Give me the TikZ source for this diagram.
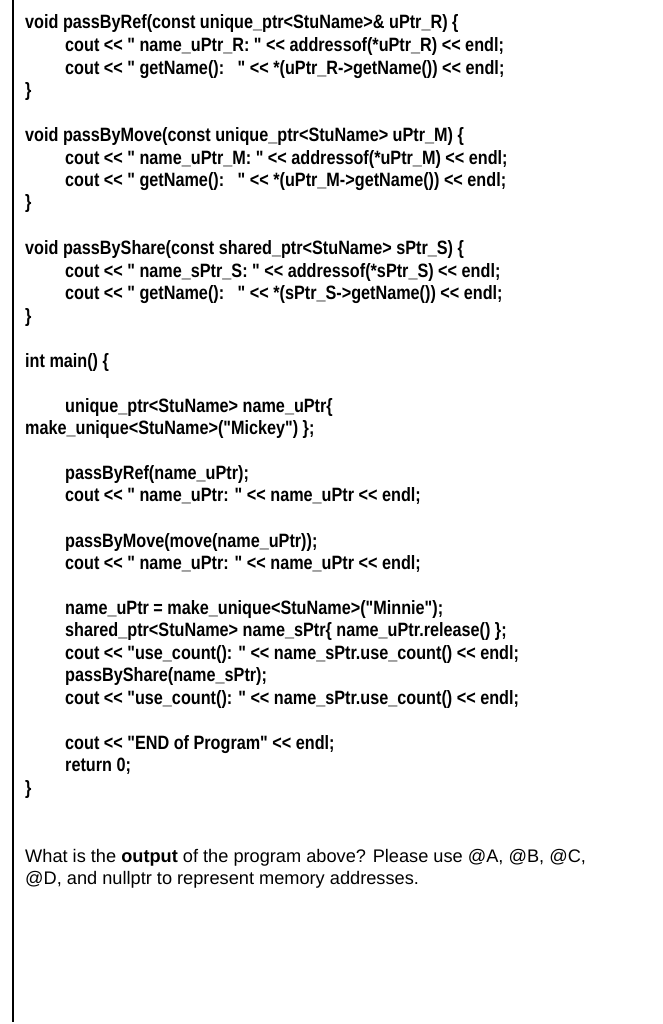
\documentclass[tikz,border=0pt]{standalone}
\usepackage{fontspec}
\setmainfont{Liberation Sans}
\newfontfamily\codefont[FakeStretch=0.84]{Liberation Sans}
\begin{document}
\begin{tikzpicture}[x=1pt,y=-1pt,
  code/.style={anchor=base west,inner sep=0pt,font=\codefont\bfseries\fontsize{19.3}{22}\selectfont},
  q/.style={anchor=base west,inner sep=0pt,font=\fontsize{18.2}{22}\selectfont}]
\useasboundingbox (0,0) rectangle (662,1024);
\draw[line width=1.6pt] (13,0) -- (13,1022);
\def\I{65}
\node[code] (l1) at (25,29) {void passByRef(const unique\_ptr<StuName>\& uPtr\_R) \{};
\node[code] (l2) at (\I,52) {cout << " name\_uPtr\_R: " << addressof(*uPtr\_R) << endl;};
\node[code] (l3) at (\I,75) {cout << " getName():\ \ \ " << *(uPtr\_R->getName()) << endl;};
\node[code] (l4) at (25,97) {\}};
\node[code] (l5) at (25,142) {void passByMove(const unique\_ptr<StuName> uPtr\_M) \{};
\node[code] (l6) at (\I,165) {cout << " name\_uPtr\_M: " << addressof(*uPtr\_M) << endl;};
\node[code] (l7) at (\I,187) {cout << " getName():\ \ \ " << *(uPtr\_M->getName()) << endl;};
\node[code] (l8) at (25,209) {\}};
\node[code] (l9) at (25,254) {void passByShare(const shared\_ptr<StuName> sPtr\_S) \{};
\node[code] (l10) at (\I,277) {cout << " name\_sPtr\_S: " << addressof(*sPtr\_S) << endl;};
\node[code] (l11) at (\I,299) {cout << " getName():\ \ \ " << *(sPtr\_S->getName()) << endl;};
\node[code] (l12) at (25,322) {\}};
\node[code] (l13) at (25,367) {int main() \{};
\node[code] (l14) at (\I,412) {unique\_ptr<StuName> name\_uPtr\{};
\node[code] (l15) at (25,434) {make\_unique<StuName>("Mickey") \};};
\node[code] (l16) at (\I,479) {passByRef(name\_uPtr);};
\node[code] (l17) at (\I,501) {cout << " name\_uPtr: " << name\_uPtr << endl;};
\node[code] (l18) at (\I,547) {passByMove(move(name\_uPtr));};
\node[code] (l19) at (\I,569) {cout << " name\_uPtr: " << name\_uPtr << endl;};
\node[code] (l20) at (\I,614) {name\_uPtr = make\_unique<StuName>("Minnie");};
\node[code] (l21) at (\I,636) {shared\_ptr<StuName> name\_sPtr\{ name\_uPtr.release() \};};
\node[code] (l22) at (\I,659) {cout << "use\_count(): " << name\_sPtr.use\_count() << endl;};
\node[code] (l23) at (\I,681) {passByShare(name\_sPtr);};
\node[code] (l24) at (\I,704) {cout << "use\_count(): " << name\_sPtr.use\_count() << endl;};
\node[code] (l25) at (\I,749) {cout << "END of Program" << endl;};
\node[code] (l26) at (\I,771) {return 0;};
\node[code] (l27) at (25,794) {\}};
\node[q] (q1) at (25,862) {What is the \textbf{output} of the program above? Please use @A, @B, @C,};
\node[q] (q2) at (25,884) {@D, and nullptr to represent memory addresses.};
\end{tikzpicture}
\end{document}
